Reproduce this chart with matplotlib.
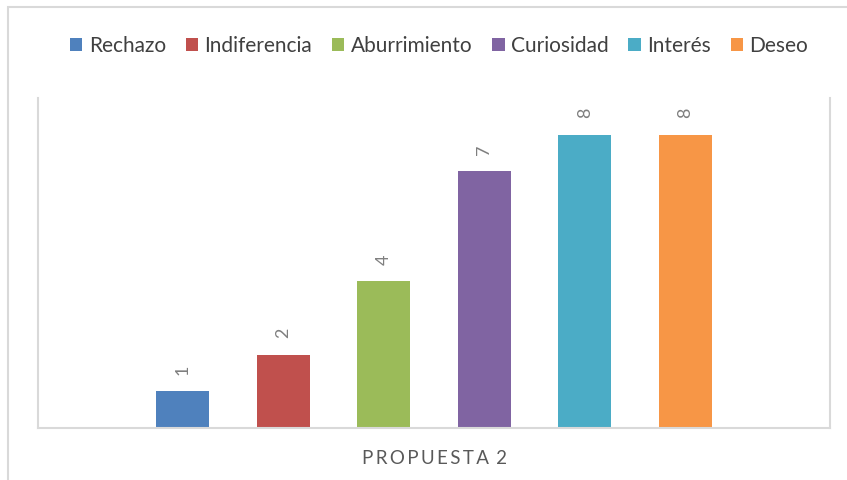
import matplotlib
matplotlib.use('Agg')
import matplotlib.pyplot as plt
from matplotlib.patches import Rectangle

categorias = ['Rechazo', 'Indiferencia', 'Aburrimiento', 'Curiosidad', 'Interés', 'Deseo']
valores = [1, 2, 4, 7, 8, 8]
colores = ['#4F81BD', '#C0504D', '#9BBB59', '#8064A2', '#4BACC6', '#F79646']
grupo = 'PROPUESTA 2'

plt.rcParams['font.family'] = ['Lato', 'DejaVu Sans']

fig = plt.figure(figsize=(8.47, 4.8), dpi=100)
ax = fig.add_axes([38 / 847, 1 - 428 / 480, (830 - 38) / 847, (428 - 98) / 480])

# outer chart border
fig.patches.append(Rectangle((8 / 847, -0.1), 1.2, 1 - 7 / 480 + 0.1,
                             transform=fig.transFigure, fill=False,
                             edgecolor='#d9d9d9', lw=1.5))

x = list(range(len(valores)))
barras = ax.bar(x, valores, width=0.527, color=colores, label=categorias)

for xi, v in zip(x, valores):
    ax.annotate(str(v), (xi, v), xytext=(0, 12), textcoords='offset points',
                ha='center', va='bottom', rotation=90, fontsize=13,
                color='#7f7f7f')

ax.set_xlim(-1.436, 6.436)
ax.set_ylim(0, 9)
ax.set_xticks([])
ax.set_yticks([])
for lado in ['left', 'right', 'bottom']:
    ax.spines[lado].set_color('#d9d9d9')
    ax.spines[lado].set_linewidth(1.5)
ax.spines['top'].set_visible(False)

ax.set_xlabel('\u2009'.join(grupo.replace(' ', '\u2009')), fontsize=13.5,
              color='#595959', labelpad=16)

fig.legend(handles=barras, labels=categorias, loc='center',
           bbox_to_anchor=(439 / 847, 1 - 46 / 480), ncol=6, frameon=False,
           fontsize=15, handlelength=0.6, handleheight=0.6,
           handletextpad=0.3, columnspacing=0.95, labelcolor='#404040')

fig.savefig('out.png', dpi=100)
